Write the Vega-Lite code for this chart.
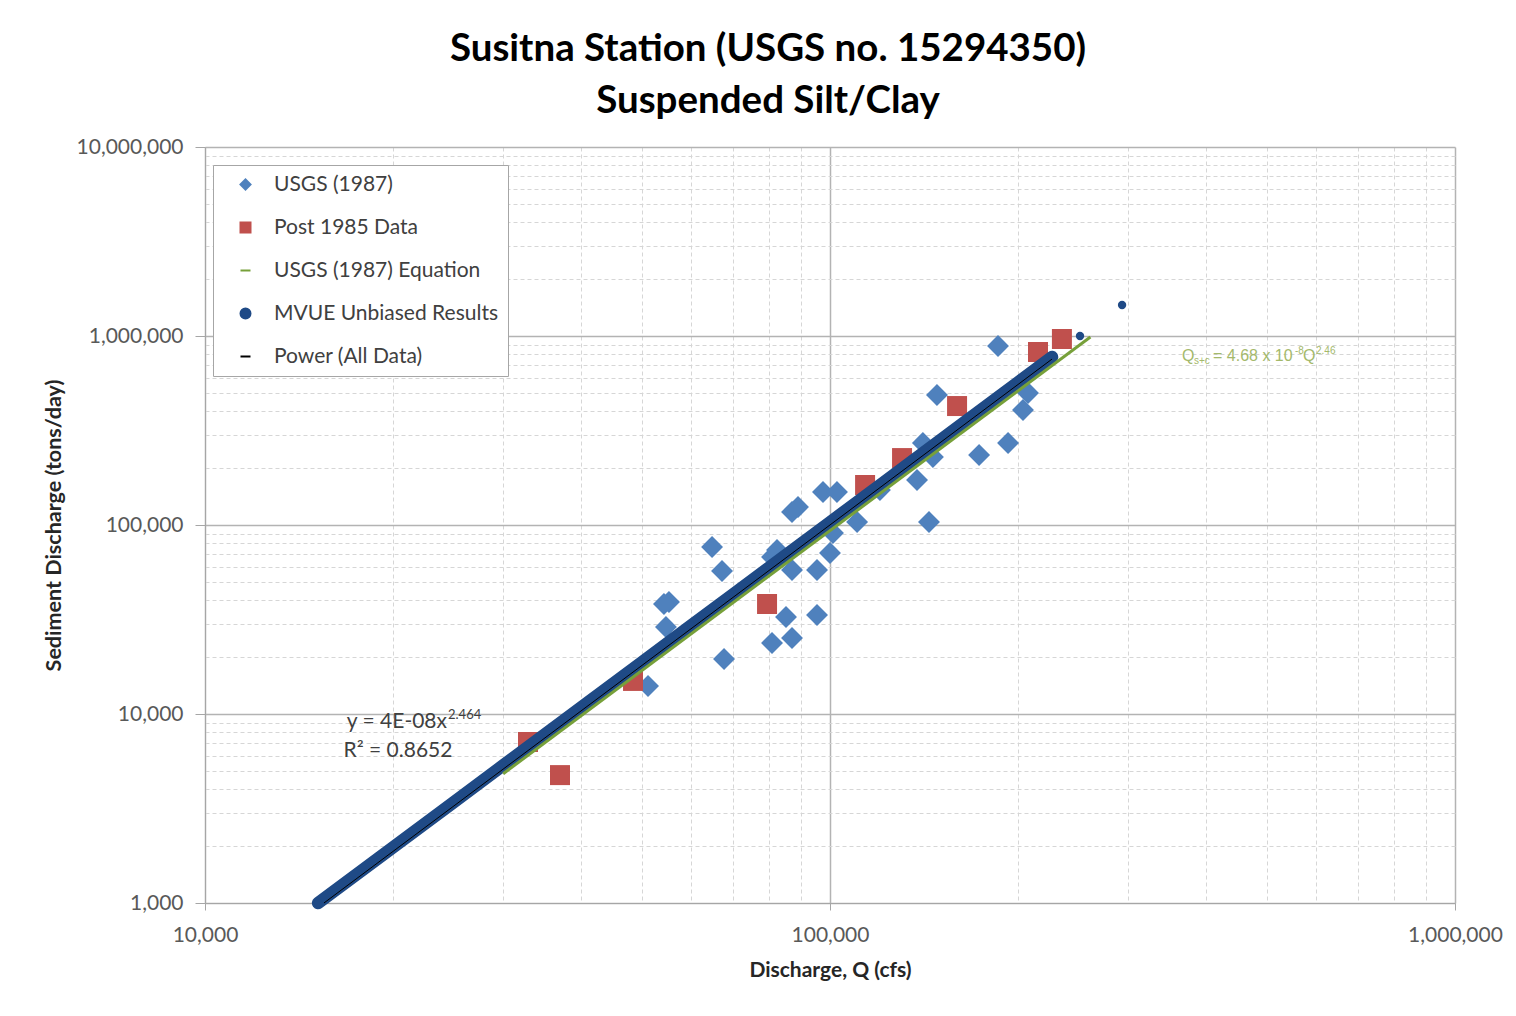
{
  "$schema": "https://vega.github.io/schema/vega-lite/v6.json",
  "width": 1250,
  "height": 756,
  "autosize": {"type": "none"},
  "padding": {"left": 205, "top": 147, "right": 61, "bottom": 113},
  "background": "white",
  "title": {
    "text": ["Susitna Station (USGS no. 15294350)", "Suspended Silt/Clay"],
    "font": "Lato", "fontSize": 38.5, "fontWeight": "bold", "color": "#000000",
    "anchor": "middle", "dx": -62, "lineHeight": 52, "offset": 15
  },
  "datasets": {
    "points": [
      {"series": "USGS (1987)", "Q": 64760, "S": 76450},
      {"series": "USGS (1987)", "Q": 67180, "S": 57100},
      {"series": "USGS (1987)", "Q": 55250, "S": 39140},
      {"series": "USGS (1987)", "Q": 54240, "S": 38200},
      {"series": "USGS (1987)", "Q": 54640, "S": 28860},
      {"series": "USGS (1987)", "Q": 67680, "S": 19540},
      {"series": "USGS (1987)", "Q": 51150, "S": 14070},
      {"series": "USGS (1987)", "Q": 82270, "S": 73740},
      {"series": "USGS (1987)", "Q": 80770, "S": 67700},
      {"series": "USGS (1987)", "Q": 86940, "S": 57800},
      {"series": "USGS (1987)", "Q": 95330, "S": 57800},
      {"series": "USGS (1987)", "Q": 100000, "S": 71100},
      {"series": "USGS (1987)", "Q": 101100, "S": 90700},
      {"series": "USGS (1987)", "Q": 110500, "S": 103700},
      {"series": "USGS (1987)", "Q": 85040, "S": 32610},
      {"series": "USGS (1987)", "Q": 95330, "S": 33400},
      {"series": "USGS (1987)", "Q": 80770, "S": 23750},
      {"series": "USGS (1987)", "Q": 86940, "S": 25250},
      {"series": "USGS (1987)", "Q": 88880, "S": 124500},
      {"series": "USGS (1987)", "Q": 86940, "S": 117200},
      {"series": "USGS (1987)", "Q": 97450, "S": 149400},
      {"series": "USGS (1987)", "Q": 102600, "S": 149400},
      {"series": "USGS (1987)", "Q": 140800, "S": 271600},
      {"series": "USGS (1987)", "Q": 146100, "S": 229000},
      {"series": "USGS (1987)", "Q": 137800, "S": 173000},
      {"series": "USGS (1987)", "Q": 144000, "S": 103700},
      {"series": "USGS (1987)", "Q": 173200, "S": 234700},
      {"series": "USGS (1987)", "Q": 192700, "S": 271600},
      {"series": "USGS (1987)", "Q": 185700, "S": 885000},
      {"series": "USGS (1987)", "Q": 148300, "S": 487300},
      {"series": "USGS (1987)", "Q": 207400, "S": 499300},
      {"series": "USGS (1987)", "Q": 203600, "S": 406000},
      {"series": "USGS (1987)", "Q": 120200, "S": 153200},
      {"series": "Post 1985 Data", "Q": 32870, "S": 7110},
      {"series": "Post 1985 Data", "Q": 36980, "S": 4750},
      {"series": "Post 1985 Data", "Q": 48400, "S": 14960},
      {"series": "Post 1985 Data", "Q": 79300, "S": 38200},
      {"series": "Post 1985 Data", "Q": 113800, "S": 162800},
      {"series": "Post 1985 Data", "Q": 130400, "S": 226000},
      {"series": "Post 1985 Data", "Q": 159700, "S": 426000},
      {"series": "Post 1985 Data", "Q": 215200, "S": 823000},
      {"series": "Post 1985 Data", "Q": 235000, "S": 964000},
      {"series": "USGS (1987) Equation", "Q": 30000, "S": 4830},
      {"series": "USGS (1987) Equation", "Q": 261000, "S": 988600},
      {"series": "MVUE Unbiased Results", "Q": 15170, "S": 1000},
      {"series": "MVUE Unbiased Results", "Q": 20000, "S": 1974},
      {"series": "MVUE Unbiased Results", "Q": 25000, "S": 3417},
      {"series": "MVUE Unbiased Results", "Q": 30000, "S": 5350},
      {"series": "MVUE Unbiased Results", "Q": 40000, "S": 10860},
      {"series": "MVUE Unbiased Results", "Q": 50000, "S": 18810},
      {"series": "MVUE Unbiased Results", "Q": 60000, "S": 29450},
      {"series": "MVUE Unbiased Results", "Q": 70000, "S": 43030},
      {"series": "MVUE Unbiased Results", "Q": 80000, "S": 59750},
      {"series": "MVUE Unbiased Results", "Q": 90000, "S": 79830},
      {"series": "MVUE Unbiased Results", "Q": 100000, "S": 103450},
      {"series": "MVUE Unbiased Results", "Q": 120000, "S": 162000},
      {"series": "MVUE Unbiased Results", "Q": 140000, "S": 236700},
      {"series": "MVUE Unbiased Results", "Q": 160000, "S": 328700},
      {"series": "MVUE Unbiased Results", "Q": 180000, "S": 439300},
      {"series": "MVUE Unbiased Results", "Q": 200000, "S": 569100},
      {"series": "MVUE Unbiased Results", "Q": 226600, "S": 774000},
      {"series": "MVUE Unbiased Results", "Q": 251200, "S": 1000000},
      {"series": "MVUE Unbiased Results", "Q": 293300, "S": 1459000},
      {"series": "Power (All Data)", "Q": 15500, "S": 1000},
      {"series": "Power (All Data)", "Q": 226600, "S": 755000}
    ]
  },
  "data": {"name": "points"},
  "encoding": {
    "x": {
      "field": "Q", "type": "quantitative",
      "scale": {"type": "log", "domain": [10000, 1000000], "nice": false},
      "axis": {
        "values": [10000, 20000, 30000, 40000, 50000, 60000, 70000, 80000, 90000, 100000, 200000, 300000, 400000, 500000, 600000, 700000, 800000, 900000, 1000000],
        "format": ",",
        "labelExpr": "abs(log(datum.value)/LN10 - round(log(datum.value)/LN10)) < 0.000001 ? datum.label : ''",
        "title": "Discharge, Q (cfs)",
        "grid": true,
        "gridColor": {"condition": {"test": "abs(log(datum.value)/LN10 - round(log(datum.value)/LN10)) < 0.000001", "value": "#b3b3b3"}, "value": "#d6d6d6"},
        "gridDash": {"condition": {"test": "abs(log(datum.value)/LN10 - round(log(datum.value)/LN10)) < 0.000001", "value": []}, "value": [4, 3]},
        "gridWidth": {"condition": {"test": "abs(log(datum.value)/LN10 - round(log(datum.value)/LN10)) < 0.000001", "value": 1.5}, "value": 1},
        "tickOpacity": {"condition": {"test": "abs(log(datum.value)/LN10 - round(log(datum.value)/LN10)) < 0.000001", "value": 1}, "value": 0},
        "tickSize": 7, "tickColor": "#a6a6a6",
        "domainColor": "#a6a6a6",
        "labelOverlap": false, "labelFlush": false,
        "labelPadding": 14, "labelFont": "Lato", "labelFontSize": 21, "labelColor": "#595959",
        "titleFont": "Lato", "titleFontSize": 21, "titleFontWeight": "bold", "titleColor": "#262626", "titlePadding": 14
      }
    },
    "y": {
      "field": "S", "type": "quantitative",
      "scale": {"type": "log", "domain": [1000, 10000000], "nice": false},
      "axis": {
        "values": [1000, 2000, 3000, 4000, 5000, 6000, 7000, 8000, 9000, 10000, 20000, 30000, 40000, 50000, 60000, 70000, 80000, 90000, 100000, 200000, 300000, 400000, 500000, 600000, 700000, 800000, 900000, 1000000, 2000000, 3000000, 4000000, 5000000, 6000000, 7000000, 8000000, 9000000, 10000000],
        "format": ",",
        "labelExpr": "abs(log(datum.value)/LN10 - round(log(datum.value)/LN10)) < 0.000001 ? datum.label : ''",
        "title": "Sediment Discharge (tons/day)",
        "grid": true,
        "gridColor": {"condition": {"test": "abs(log(datum.value)/LN10 - round(log(datum.value)/LN10)) < 0.000001", "value": "#b3b3b3"}, "value": "#d6d6d6"},
        "gridDash": {"condition": {"test": "abs(log(datum.value)/LN10 - round(log(datum.value)/LN10)) < 0.000001", "value": []}, "value": [4, 3]},
        "gridWidth": {"condition": {"test": "abs(log(datum.value)/LN10 - round(log(datum.value)/LN10)) < 0.000001", "value": 1.5}, "value": 1},
        "tickOpacity": {"condition": {"test": "abs(log(datum.value)/LN10 - round(log(datum.value)/LN10)) < 0.000001", "value": 1}, "value": 0},
        "tickSize": 10, "tickColor": "#a6a6a6",
        "domainColor": "#a6a6a6",
        "labelOverlap": false, "labelFlush": false,
        "labelPadding": 12, "labelFont": "Lato", "labelFontSize": 21, "labelColor": "#595959",
        "titleFont": "Lato", "titleFontSize": 21.5, "titleFontWeight": "bold", "titleColor": "#262626", "titlePadding": 11
      }
    }
  },
  "layer": [
    {
      "transform": [{"filter": "datum.series === 'USGS (1987)'"}],
      "mark": {"type": "point", "shape": "diamond", "filled": true, "size": 480, "opacity": 1, "color": "#4f81bd"}
    },
    {
      "transform": [{"filter": "datum.series === 'Post 1985 Data'"}],
      "mark": {"type": "point", "shape": "square", "filled": true, "size": 400, "opacity": 1, "color": "#c0504d"}
    },
    {
      "transform": [{"filter": "datum.series === 'MVUE Unbiased Results' && datum.Q < 240000"}],
      "mark": {"type": "line", "strokeWidth": 12.5, "strokeCap": "round", "interpolate": "linear", "color": "#1f4a86"}
    },
    {
      "transform": [{"filter": "datum.series === 'MVUE Unbiased Results'"}],
      "mark": {"type": "point", "shape": "circle", "filled": true, "size": 70, "opacity": 1, "color": "#1f4a86"}
    },
    {
      "transform": [{"filter": "datum.series === 'Power (All Data)'"}],
      "mark": {"type": "line", "strokeWidth": 1, "color": "#000000"}
    },
    {
      "transform": [{"filter": "datum.series === 'USGS (1987) Equation'"}],
      "mark": {"type": "line", "strokeWidth": 3, "color": "#77a03a"}
    },
    {
      "mark": {"type": "point", "filled": true, "opacity": 0},
      "encoding": {
        "color": {
          "field": "series", "type": "ordinal",
          "scale": {
            "domain": ["USGS (1987)", "Post 1985 Data", "USGS (1987) Equation", "MVUE Unbiased Results", "Power (All Data)"],
            "range": ["#4f81bd", "#c0504d", "#77a03a", "#1f4a86", "#000000"]
          },
          "legend": {
            "orient": "none", "legendX": 8, "legendY": 18, "title": null, "padding": 9,
            "strokeColor": "#a6a6a6", "fillColor": "white",
            "symbolOffset": 13, "labelOffset": 18, "rowPadding": 21,
            "symbolOpacity": 1, "symbolStrokeWidth": 2,
            "labelFont": "Lato", "labelFontSize": 21, "labelColor": "#404040", "labelLimit": 400
          }
        },
        "stroke": {
          "field": "series", "type": "ordinal",
          "scale": {
            "domain": ["USGS (1987)", "Post 1985 Data", "USGS (1987) Equation", "MVUE Unbiased Results", "Power (All Data)"],
            "range": ["#4f81bd", "#c0504d", "#77a03a", "#1f4a86", "#000000"]
          },
          "legend": {
            "orient": "none", "legendX": 8, "legendY": 18, "title": null, "padding": 9,
            "strokeColor": "#a6a6a6", "fillColor": "white",
            "symbolOffset": 13, "labelOffset": 18, "rowPadding": 21,
            "symbolOpacity": 1, "symbolStrokeWidth": 2,
            "labelFont": "Lato", "labelFontSize": 21, "labelColor": "#404040", "labelLimit": 400
          }
        },
        "shape": {
          "field": "series", "type": "ordinal",
          "scale": {
            "domain": ["USGS (1987)", "Post 1985 Data", "USGS (1987) Equation", "MVUE Unbiased Results", "Power (All Data)"],
            "range": ["diamond", "square", "stroke", "circle", "stroke"]
          },
          "legend": {
            "orient": "none", "legendX": 8, "legendY": 18, "title": null, "padding": 9,
            "strokeColor": "#a6a6a6", "fillColor": "white",
            "symbolOffset": 13, "labelOffset": 18, "rowPadding": 21,
            "symbolOpacity": 1, "symbolStrokeWidth": 2,
            "labelFont": "Lato", "labelFontSize": 21, "labelColor": "#404040", "labelLimit": 400
          }
        }
      }
    },
    {
      "data": {"values": [{"Q": 24390, "S": 9073, "label": "y = 4E-08x"}]},
      "mark": {"type": "text", "align": "right", "baseline": "middle", "font": "Lato", "fontSize": 21, "color": "#404040"},
      "encoding": {"text": {"field": "label"}}
    },
    {
      "data": {"values": [{"Q": 24390, "S": 9073, "label": "2.464"}]},
      "mark": {"type": "text", "align": "left", "baseline": "middle", "dx": 1, "dy": -7, "font": "Lato", "fontSize": 13, "color": "#404040"},
      "encoding": {"text": {"field": "label"}}
    },
    {
      "data": {"values": [{"Q": 20360, "S": 6371, "label": "R² = 0.8652"}]},
      "mark": {"type": "text", "align": "center", "baseline": "middle", "font": "Lato", "fontSize": 21, "color": "#404040"},
      "encoding": {"text": {"field": "label"}}
    },
    {
      "data": {"values": [{"Q": 365800, "S": 783800, "label": "Q"}]},
      "mark": {"type": "text", "align": "left", "baseline": "middle", "font": "Liberation Sans", "fontSize": 16, "color": "#a4b96b"},
      "encoding": {"text": {"field": "label"}}
    },
    {
      "data": {"values": [{"Q": 365800, "S": 783800, "label": "s+c"}]},
      "mark": {"type": "text", "align": "left", "baseline": "middle", "dx": 12, "dy": 5, "font": "Liberation Sans", "fontSize": 10, "color": "#a4b96b"},
      "encoding": {"text": {"field": "label"}}
    },
    {
      "data": {"values": [{"Q": 365800, "S": 783800, "label": "= 4.68 x 10"}]},
      "mark": {"type": "text", "align": "left", "baseline": "middle", "dx": 31, "font": "Liberation Sans", "fontSize": 16, "color": "#a4b96b"},
      "encoding": {"text": {"field": "label"}}
    },
    {
      "data": {"values": [{"Q": 365800, "S": 783800, "label": "-8"}]},
      "mark": {"type": "text", "align": "left", "baseline": "middle", "dx": 113, "dy": -5, "font": "Liberation Sans", "fontSize": 10, "color": "#a4b96b"},
      "encoding": {"text": {"field": "label"}}
    },
    {
      "data": {"values": [{"Q": 365800, "S": 783800, "label": "Q"}]},
      "mark": {"type": "text", "align": "left", "baseline": "middle", "dx": 121, "font": "Liberation Sans", "fontSize": 16, "color": "#a4b96b"},
      "encoding": {"text": {"field": "label"}}
    },
    {
      "data": {"values": [{"Q": 365800, "S": 783800, "label": "2.46"}]},
      "mark": {"type": "text", "align": "left", "baseline": "middle", "dx": 134, "dy": -5, "font": "Liberation Sans", "fontSize": 10, "color": "#a4b96b"},
      "encoding": {"text": {"field": "label"}}
    }
  ],
  "config": {
    "view": {"stroke": null}
  }
}
